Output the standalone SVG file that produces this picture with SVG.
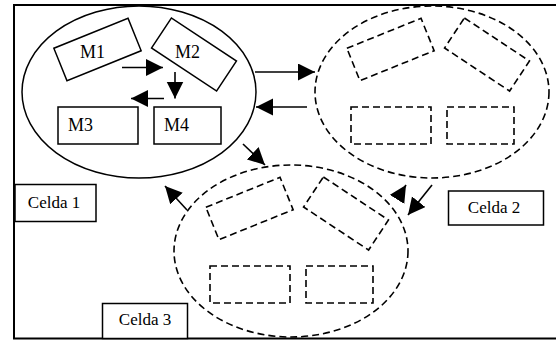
<svg xmlns="http://www.w3.org/2000/svg" width="556" height="340" viewBox="0 0 556 340">
<style>
.frame{fill:none;stroke:#000;stroke-width:2}
.cellsolid{fill:none;stroke:#000;stroke-width:1.5}
.celldash{fill:none;stroke:#000;stroke-width:1.6;stroke-dasharray:7 4}
.lbl{fill:#fff;stroke:#000;stroke-width:1.5}
.t{fill:#000;stroke:none}
.m{font-size:18px}
.c{font-size:17px;text-anchor:middle}
.arr{stroke:#000;stroke-width:1.6;fill:none;marker-end:url(#ah)}
</style>
<defs>
<marker id="ah" markerUnits="userSpaceOnUse" markerWidth="18" markerHeight="18" refX="17" refY="8.5" orient="auto">
<path d="M0,0 L17,8.5 L0,17 z" fill="#000"/>
</marker>
<g id="cellshapes">
<ellipse cx="139" cy="92" rx="117" ry="86"/>
<rect x="57.5" y="32" width="80" height="35" transform="rotate(-22 97.5 49.5)"/>
<rect x="155" y="36.5" width="78" height="36" transform="rotate(33.5 194 54.5)"/>
<rect x="58" y="107" width="80" height="37"/>
<rect x="154" y="107" width="67" height="37"/>
</g>
</defs>
<rect width="556" height="340" fill="#fff"/>
<g id="frame">
<polyline class="frame" points="556,5 14,5 14,338.5 556,338.5"/>
</g>
<g id="celda1-cell" class="cellsolid">
<use href="#cellshapes"/>
<g font-family="'Liberation Serif', 'Times New Roman', serif">
<text class="t m" x="80" y="58">M1</text>
<text class="t m" x="175" y="58">M2</text>
<text class="t m" x="68" y="131">M3</text>
<text class="t m" x="164" y="131">M4</text>
</g>
</g>
<g id="celda2-cell" class="celldash" transform="translate(293 0)">
<use href="#cellshapes"/>
</g>
<g id="celda3-cell" class="celldash" transform="translate(152 159)">
<use href="#cellshapes"/>
</g>
<g id="connectors">
<line class="arr" x1="122" y1="67.5" x2="163" y2="67.5"/>
<line class="arr" x1="175" y1="72" x2="175" y2="98.5"/>
<line class="arr" x1="164" y1="98.5" x2="131" y2="98.5"/>
<line class="arr" x1="255" y1="72" x2="315" y2="72"/>
<line class="arr" x1="307" y1="107" x2="256" y2="107"/>
<line class="arr" x1="243" y1="144" x2="265" y2="165"/>
<line class="arr" x1="187" y1="210" x2="165" y2="186"/>
<line class="arr" x1="397.5" y1="198.7" x2="406" y2="185"/>
<line class="arr" x1="432" y1="185" x2="408" y2="215"/>
</g>
<g id="celda1" font-family="'Liberation Serif', 'Times New Roman', serif">
<rect class="lbl" x="15" y="184.5" width="81" height="37"/>
<text class="t c" x="54" y="208">Celda 1</text>
</g>
<g id="celda2" font-family="'Liberation Serif', 'Times New Roman', serif">
<rect class="lbl" x="448.5" y="191" width="95" height="34"/>
<text class="t c" x="494" y="213">Celda 2</text>
</g>
<g id="celda3" font-family="'Liberation Serif', 'Times New Roman', serif">
<rect class="lbl" x="102.5" y="303.5" width="85" height="35"/>
<text class="t c" x="145" y="325">Celda 3</text>
</g>
</svg>
